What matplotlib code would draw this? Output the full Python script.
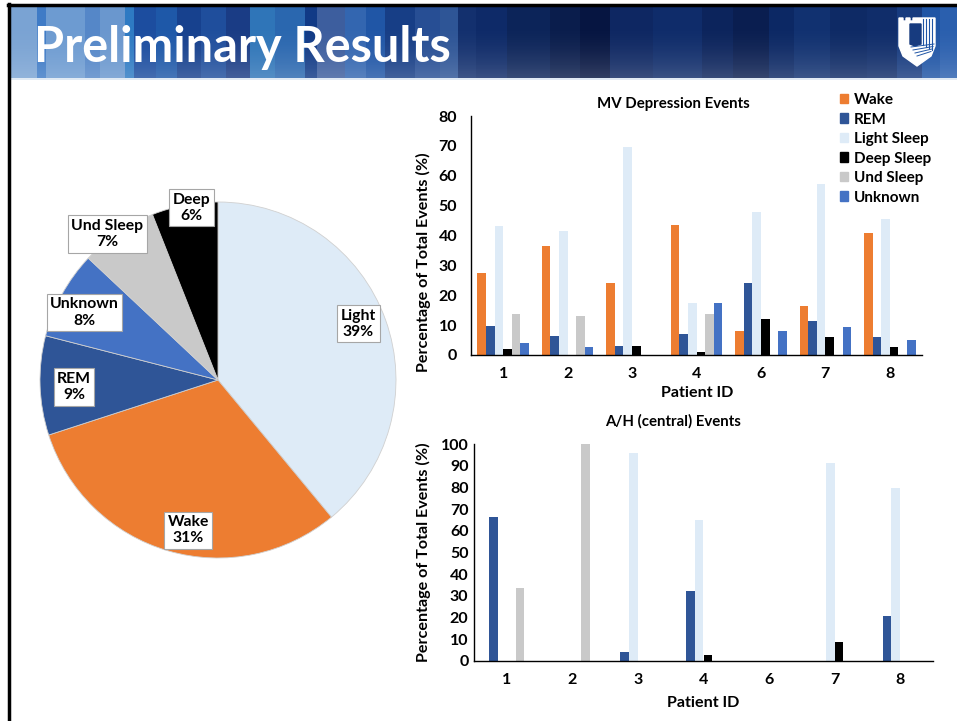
import numpy as np
import matplotlib
matplotlib.use("Agg")
import matplotlib.pyplot as plt
from matplotlib.patches import Rectangle, Polygon, Patch

plt.rcParams['font.family'] = ['Lato', 'DejaVu Sans']
plt.rcParams['font.weight'] = 'bold'

W, H = 957, 721

# sleep stage breakdown of all events
stage_names = ["Light", "Wake", "REM", "Unknown", "Und Sleep", "Deep"]
stage_pct = [39, 31, 9, 8, 7, 6]

patients = ["1", "2", "3", "4", "6", "7", "8"]
series = ["Wake", "REM", "Light Sleep", "Deep Sleep", "Und Sleep", "Unknown"]

# MV depression events, % of each patient's total
mv_wake = [27.5, 36.4, 24.2, 43.6, 8.1, 16.3, 40.7]
mv_rem = [9.8, 6.4, 3.0, 6.9, 24.0, 11.3, 6.1]
mv_light = [43.2, 41.5, 69.6, 17.3, 47.9, 57.1, 45.6]
mv_deep = [1.9, 0.0, 3.0, 1.1, 11.9, 6.1, 2.6]
mv_und = [13.7, 12.9, 0.0, 13.8, 0.0, 0.0, 0.0]
mv_unknown = [3.9, 2.7, 0.0, 17.3, 8.1, 9.3, 5.0]

# A/H (central) events
ah_wake = [0, 0, 0, 0, 0, 0, 0]
ah_rem = [66.5, 0, 4.3, 32.4, 0, 0, 20.6]
ah_light = [0, 0, 95.7, 65.0, 0, 91.1, 79.7]
ah_deep = [0, 0, 0, 2.8, 0, 8.9, 0]
ah_und = [33.5, 100.0, 0, 0, 0, 0, 0]
ah_unknown = [0, 0, 0, 0, 0, 0, 0]

colors = {
    "Wake": "#ED7D31", "REM": "#2F5597", "Light Sleep": "#DEEBF7",
    "Deep Sleep": "#000000", "Und Sleep": "#C9C9C9", "Unknown": "#4472C4",
}
pie_colors = [colors["Light Sleep"], colors["Wake"], colors["REM"],
              colors["Unknown"], colors["Und Sleep"], colors["Deep Sleep"]]

# header stripes (left edge in px, colour)
stripes = [
    (9, "#7AA3D3"), (37, "#3F7BC6"), (46, "#6D9BD1"), (85, "#5587C8"),
    (100, "#6A97CE"), (125, "#2E7AC3"), (134, "#1C4D9F"), (156, "#1E58A8"),
    (177, "#17418E"), (201, "#1F4E9C"), (226, "#1A3C85"), (250, "#2F75B8"),
    (275, "#2A67AF"), (305, "#113A86"), (317, "#3D5E9E"), (345, "#3366B0"),
    (366, "#2056A6"), (385, "#173E86"), (415, "#274E94"), (440, "#2E5596"),
    (458, "#13306E"), (476, "#0E2A68"), (507, "#0C2459"), (550, "#0A1D4C"),
    (580, "#061541"), (610, "#0E2762"), (653, "#0F2C6A"), (702, "#0C245C"),
    (733, "#0A1E50"), (769, "#0C2864"), (794, "#113170"), (830, "#0E2A65"),
    (867, "#102D6A"), (897, "#173B7F"), (922, "#1F55A5"), (940, "#2A5FAE"),
]

fig = plt.figure(figsize=(W / 100, H / 100), dpi=100)
fig.patch.set_facecolor("white")

# background layer in pixel coordinates
bg = fig.add_axes([0, 0, 1, 1])
bg.set_xlim(0, W)
bg.set_ylim(H, 0)
bg.axis("off")

edges = [s[0] for s in stripes] + [W]
for i, (x0, c) in enumerate(stripes):
    bg.add_patch(Rectangle((x0, 7), edges[i + 1] - x0, 71, color=c, lw=0))
# soft lighter band towards the bottom of the header
grad = np.linspace(0, 1, 60)[:, None] ** 2
bg.imshow(np.dstack([np.ones((60, 1, 3)), grad * 0.18]), extent=(9, W, 78, 18),
          aspect="auto", zorder=2)
bg.plot([9, W], [78.5, 78.5], color="#DCE6F2", lw=1.2, zorder=3)
bg.plot([8, W], [5, 5], color="black", lw=2.5, zorder=4)
bg.plot([8.5, 8.5], [4, H], color="black", lw=2.5, zorder=4)

bg.text(34, 62, "Preliminary Results", color="white", fontsize=35,
        fontweight="bold", ha="left", va="baseline", zorder=5)

# shield logo
shield = [(899, 18), (903, 18), (903, 21), (906, 21), (906, 18), (910, 18),
          (910, 21), (913, 21), (913, 18), (935, 18), (935, 46), (931, 56),
          (917, 66), (903, 56), (899, 46)]
bg.add_patch(Polygon(shield, closed=True, color="white", zorder=5))
bg.add_patch(Polygon([(910, 24), (921, 24), (921, 44), (915, 46), (910, 44)],
                     closed=True, color="#173B7F", zorder=6))
for k, xs in enumerate([922.5, 925.5, 928.5, 931.5]):
    bg.plot([xs, xs], [19, 45 + k * 1.5], color="#1F55A5", lw=0.8, zorder=6)
for k in range(4):
    bg.plot([911 + k * 2, 934 - k], [47 + k * 3, 44 + k * 2.5],
            color="#1F55A5", lw=0.7, zorder=6)

# chart titles and axis labels
bg.text(673, 104, "MV Depression Events", fontsize=10.8, ha="center", va="center")
bg.text(673, 421, "A/H (central) Events", fontsize=10.8, ha="center", va="center")
bg.text(423, 262, "Percentage of Total Events (%)", fontsize=11.6,
        rotation=90, ha="center", va="center")
bg.text(423, 552, "Percentage of Total Events (%)", fontsize=11.6,
        rotation=90, ha="center", va="center")
bg.text(697, 393, "Patient ID", fontsize=11.6, ha="center", va="center")
bg.text(703, 703, "Patient ID", fontsize=11.6, ha="center", va="center")


def px_axes(left, top, right, bottom):
    return fig.add_axes([left / W, 1 - bottom / H, (right - left) / W,
                         (bottom - top) / H])


# pie of overall distribution
pie_ax = px_axes(40, 202, 396, 558)
wedges, _ = pie_ax.pie(stage_pct, colors=pie_colors, startangle=90,
                       counterclock=False, radius=1,
                       wedgeprops=dict(edgecolor="#D0D0D0", linewidth=0.6))
pie_ax.set_xlim(-1, 1)
pie_ax.set_ylim(-1, 1)
label_r = [0.85, 0.86, 0.81, 0.84, 1.03, 0.98]
label_shift = [2, 5, 1, 2, 3, -2]
for w, name, pct, r, d in zip(wedges, stage_names, stage_pct, label_r, label_shift):
    ang = np.deg2rad((w.theta1 + w.theta2) / 2 + d)
    pie_ax.text(r * np.cos(ang), r * np.sin(ang), f"{name}\n{pct}%",
                ha="center", va="center", fontsize=11.3, linespacing=1.2,
                bbox=dict(boxstyle="square,pad=0.22", fc="white",
                          ec="#A6A6A6", lw=0.8), zorder=5)


def grouped_bars(ax, values, ymax, tick_pad):
    x = np.arange(len(patients))
    width = 1 / 7.5
    for i, (name, vals) in enumerate(zip(series, values)):
        ax.bar(x + (i - 2.5) * width, vals, width, color=colors[name], lw=0)
    ax.set_xlim(-0.5, len(patients) - 0.5)
    ax.set_ylim(0, ymax)
    ax.set_yticks(np.arange(0, ymax + 1, 10))
    ax.set_xticks(x)
    ax.set_xticklabels(patients)
    ax.tick_params(axis="both", length=0, labelsize=11.5)
    ax.tick_params(axis="x", pad=9)
    ax.tick_params(axis="y", pad=tick_pad)
    for s in ("top", "right"):
        ax.spines[s].set_visible(False)
    for s in ("left", "bottom"):
        ax.spines[s].set_color("black")
        ax.spines[s].set_linewidth(1.0)
    ax.set_facecolor("none")


mv_ax = px_axes(471, 116, 922, 355)
grouped_bars(mv_ax, [mv_wake, mv_rem, mv_light, mv_deep, mv_und, mv_unknown],
             80, 10)

ah_ax = px_axes(474, 444, 933, 661)
grouped_bars(ah_ax, [ah_wake, ah_rem, ah_light, ah_deep, ah_und, ah_unknown],
             100, 4)

handles = [Patch(color=colors[s]) for s in series]
fig.legend(handles, series, loc="upper left", bbox_to_anchor=(840 / W, 1 - 93 / H),
           frameon=False, fontsize=11, handlelength=0.55, handleheight=0.55,
           handletextpad=0.35, labelspacing=0.36, borderaxespad=0, borderpad=0)

fig.savefig("out.png", dpi=100)
